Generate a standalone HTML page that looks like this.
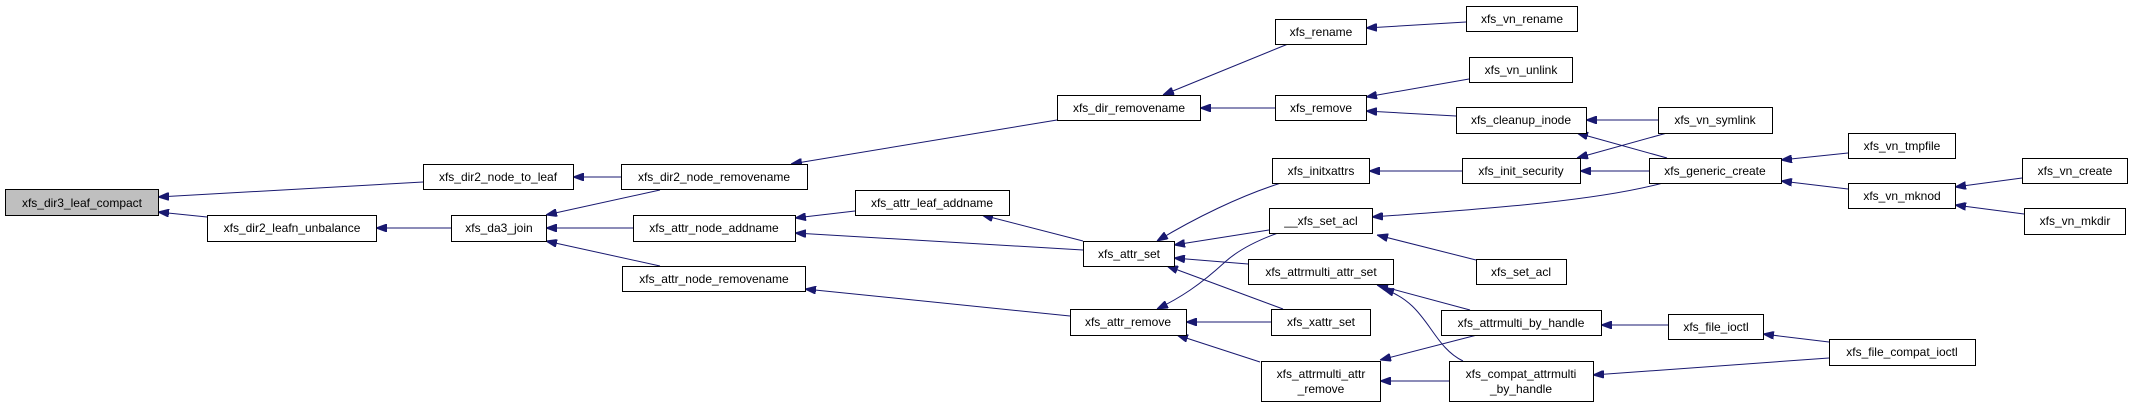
<!DOCTYPE html>
<html><head><meta charset="utf-8"><style>
html,body{margin:0;padding:0;background:#fff;width:2132px;height:407px;overflow:hidden}
svg text{font-family:"Liberation Sans",Arial,sans-serif;font-size:12px;fill:#000}
</style></head><body>
<svg width="2132" height="407" viewBox="0 0 2132 407" xmlns="http://www.w3.org/2000/svg">
<defs><marker id="a" markerWidth="11" markerHeight="8" refX="11" refY="4" orient="auto" markerUnits="userSpaceOnUse"><path d="M0,0 L11,4 L0,8 z" fill="#191970" stroke="#191970"/></marker></defs>
<g fill="none" stroke="#191970" stroke-width="1" marker-end="url(#a)">
<path d="M423,182 L158,197"/>
<path d="M207,217 L158,212"/>
<path d="M451,228 L376,228"/>
<path d="M621,177 L573,177"/>
<path d="M660,190 L546,215"/>
<path d="M633,228 L546,228"/>
<path d="M660,266 L546,241"/>
<path d="M1057,120 L791,164"/>
<path d="M855,211 L795,218"/>
<path d="M1083,250 L795,233"/>
<path d="M1083,241 L982,215"/>
<path d="M1070,316 L805,289"/>
<path d="M1288,44 L1163,95"/>
<path d="M1275,108 L1200,108"/>
<path d="M1281,183 C1240,196 1195,218 1157,241"/>
<path d="M1269,230 L1174,245"/>
<path d="M1248,264 L1174,258"/>
<path d="M1283,309 L1167,266"/>
<path d="M1278,233 C1250,243 1235,253 1225,262 C1200,285 1180,298 1157,309"/>
<path d="M1271,322 L1186,322"/>
<path d="M1260,362 L1177,335"/>
<path d="M1466,22 L1366,28"/>
<path d="M1469,79 L1366,97"/>
<path d="M1456,116 L1366,111"/>
<path d="M1658,120 L1586,120"/>
<path d="M1667,158 L1577,133"/>
<path d="M1667,133 L1577,158"/>
<path d="M1462,171 L1369,171"/>
<path d="M1649,171 L1580,171"/>
<path d="M1663,183 C1600,200 1500,208 1372,217"/>
<path d="M1476,260 L1377,235"/>
<path d="M1848,153 L1781,160"/>
<path d="M1848,189 L1781,181"/>
<path d="M2022,178 L1955,187"/>
<path d="M2024,214 L1955,205"/>
<path d="M1470,310 L1377,285"/>
<path d="M1463,361 C1430,345 1428,303 1383,289"/>
<path d="M1477,335 L1380,360"/>
<path d="M1449,381 L1380,381"/>
<path d="M1668,325 L1601,325"/>
<path d="M1829,342 L1763,334"/>
<path d="M1829,358 L1593,375"/>
</g>
<g stroke="#000" stroke-width="1" fill="#fff">
<rect x="5.5" y="189.5" width="153" height="26" fill="#bfbfbf"/>
<rect x="423.5" y="164.5" width="150" height="25"/>
<rect x="207.5" y="215.5" width="169" height="26"/>
<rect x="451.5" y="215.5" width="95" height="26"/>
<rect x="621.5" y="164.5" width="186" height="25"/>
<rect x="633.5" y="215.5" width="162" height="26"/>
<rect x="622.5" y="266.5" width="183" height="25"/>
<rect x="855.5" y="190.5" width="154" height="25"/>
<rect x="1057.5" y="95.5" width="143" height="25"/>
<rect x="1275.5" y="19.5" width="91" height="25"/>
<rect x="1275.5" y="95.5" width="91" height="25"/>
<rect x="1272.5" y="158.5" width="97" height="25"/>
<rect x="1269.5" y="208.5" width="103" height="25"/>
<rect x="1083.5" y="241.5" width="91" height="25"/>
<rect x="1248.5" y="259.5" width="145" height="25"/>
<rect x="1070.5" y="309.5" width="116" height="26"/>
<rect x="1271.5" y="309.5" width="99" height="26"/>
<rect x="1261.5" y="361.5" width="119" height="40"/>
<rect x="1466.5" y="6.5" width="111" height="25"/>
<rect x="1469.5" y="57.5" width="103" height="25"/>
<rect x="1456.5" y="107.5" width="130" height="26"/>
<rect x="1658.5" y="107.5" width="114" height="26"/>
<rect x="1462.5" y="158.5" width="118" height="25"/>
<rect x="1649.5" y="158.5" width="132" height="25"/>
<rect x="1848.5" y="133.5" width="107" height="25"/>
<rect x="1848.5" y="183.5" width="107" height="25"/>
<rect x="2022.5" y="158.5" width="105" height="25"/>
<rect x="2024.5" y="208.5" width="101" height="26"/>
<rect x="1476.5" y="259.5" width="90" height="25"/>
<rect x="1441.5" y="310.5" width="160" height="25"/>
<rect x="1668.5" y="314.5" width="95" height="25"/>
<rect x="1449.5" y="361.5" width="144" height="40"/>
<rect x="1829.5" y="339.5" width="146" height="26"/>
</g>
<g text-anchor="middle">
<text x="82" y="207">xfs_dir3_leaf_compact</text>
<text x="498" y="181">xfs_dir2_node_to_leaf</text>
<text x="292" y="232">xfs_dir2_leafn_unbalance</text>
<text x="499" y="232">xfs_da3_join</text>
<text x="714" y="181">xfs_dir2_node_removename</text>
<text x="714" y="232">xfs_attr_node_addname</text>
<text x="714" y="283">xfs_attr_node_removename</text>
<text x="932" y="207">xfs_attr_leaf_addname</text>
<text x="1129" y="112">xfs_dir_removename</text>
<text x="1321" y="36">xfs_rename</text>
<text x="1321" y="112">xfs_remove</text>
<text x="1321" y="175">xfs_initxattrs</text>
<text x="1321" y="225">__xfs_set_acl</text>
<text x="1129" y="258">xfs_attr_set</text>
<text x="1321" y="276">xfs_attrmulti_attr_set</text>
<text x="1128" y="326">xfs_attr_remove</text>
<text x="1321" y="326">xfs_xattr_set</text>
<text x="1321" y="378">xfs_attrmulti_attr</text>
<text x="1321" y="393">_remove</text>
<text x="1522" y="23">xfs_vn_rename</text>
<text x="1521" y="74">xfs_vn_unlink</text>
<text x="1521" y="124">xfs_cleanup_inode</text>
<text x="1715" y="124">xfs_vn_symlink</text>
<text x="1521" y="175">xfs_init_security</text>
<text x="1715" y="175">xfs_generic_create</text>
<text x="1902" y="150">xfs_vn_tmpfile</text>
<text x="1902" y="200">xfs_vn_mknod</text>
<text x="2075" y="175">xfs_vn_create</text>
<text x="2075" y="225">xfs_vn_mkdir</text>
<text x="1521" y="276">xfs_set_acl</text>
<text x="1521" y="327">xfs_attrmulti_by_handle</text>
<text x="1716" y="331">xfs_file_ioctl</text>
<text x="1521" y="378">xfs_compat_attrmulti</text>
<text x="1521" y="393">_by_handle</text>
<text x="1902" y="356">xfs_file_compat_ioctl</text>
</g>
</svg>
</body></html>
